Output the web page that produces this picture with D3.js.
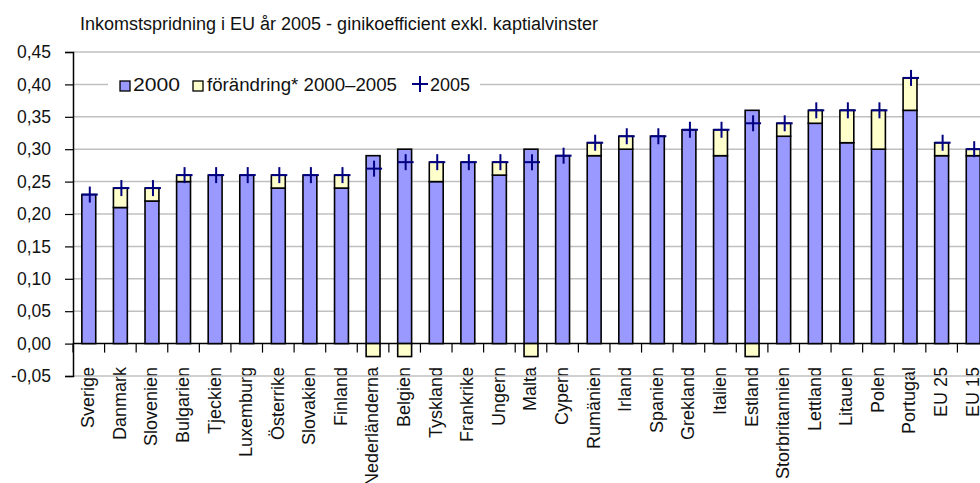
<!DOCTYPE html>
<html>
<head>
<meta charset="utf-8">
<script src="https://cdn.jsdelivr.net/npm/d3@7"></script>
<style>
  body { margin: 0; background: #fff; }
  svg { display: block; font-family: "Liberation Sans", Arial, sans-serif; }
</style>
</head>
<body>
<svg id="chart" width="980" height="483"></svg>
<script>
const title = 'Inkomstspridning i EU år 2005 - ginikoefficient exkl. kaptialvinster';

const countries = ['Sverige', 'Danmark', 'Slovenien', 'Bulgarien', 'Tjeckien', 'Luxemburg',
  'Österrike', 'Slovakien', 'Finland', 'Nederländerna', 'Belgien', 'Tyskland', 'Frankrike',
  'Ungern', 'Malta', 'Cypern', 'Rumänien', 'Irland', 'Spanien', 'Grekland', 'Italien',
  'Estland', 'Storbritannien', 'Lettland', 'Litauen', 'Polen', 'Portugal', 'EU 25', 'EU 15'];

const gini2000 = [0.23, 0.21, 0.22, 0.25, 0.26, 0.26, 0.24, 0.26, 0.24, 0.29, 0.30, 0.25, 0.28,
  0.26, 0.30, 0.29, 0.29, 0.30, 0.32, 0.33, 0.29, 0.36, 0.32, 0.34, 0.31, 0.30, 0.36, 0.29, 0.29];

const gini2005 = [0.23, 0.24, 0.24, 0.26, 0.26, 0.26, 0.26, 0.26, 0.26, 0.27, 0.28, 0.28, 0.28,
  0.28, 0.28, 0.29, 0.31, 0.32, 0.32, 0.33, 0.33, 0.34, 0.34, 0.36, 0.36, 0.36, 0.41, 0.31, 0.30];

const yTicks = [-0.05, 0, 0.05, 0.10, 0.15, 0.20, 0.25, 0.30, 0.35, 0.40, 0.45];

const legendItems = [
  { key: 'base', label: '2000' },
  { key: 'change', label: 'förändring* 2000–2005' },
  { key: 'cross', label: '2005' },
];

const colors = { base: '#9999ff', change: '#ffffcc', cross: '#000080' };

const rows = countries.map((name, i) => ({
  name,
  v2000: gini2000[i],
  v2005: gini2005[i],
  change: Math.round((gini2005[i] - gini2000[i]) * 100) / 100,
}));

const svg = d3.select('#chart');
const left = 73;
const right = 989;

const x = d3.scaleBand()
  .domain(countries)
  .range([left, right])
  .paddingInner(0.56)
  .paddingOuter(0.28);

const y = d3.scaleLinear()
  .domain([-0.05, 0.45])
  .range([376, 52]);

const fmt = (d) => d3.format('.2f')(d).replace('.', ',').replace('−', '-');

// title
svg.append('text')
  .attr('x', 80)
  .attr('y', 30)
  .attr('font-size', 18)
  .attr('fill', '#111')
  .text(title);

// x labels (drawn under the gridlines like the original)
svg.append('g')
  .selectAll('text')
  .data(countries)
  .join('text')
  .attr('transform', (d) => `translate(${x(d) + x.bandwidth() / 2},367) rotate(-90)`)
  .attr('text-anchor', 'end')
  .attr('dy', '0.3em')
  .attr('font-size', 18)
  .attr('fill', '#111')
  .text((d) => d);

// gridlines
svg.append('g')
  .selectAll('line')
  .data(yTicks.filter((d) => d !== 0))
  .join('line')
  .attr('x1', left)
  .attr('x2', 980)
  .attr('y1', (d) => y(d))
  .attr('y2', (d) => y(d))
  .attr('stroke', '#c0c0c0')
  .attr('stroke-width', 1.5);

// y axis
const yAxis = svg.append('g')
  .attr('transform', `translate(${left},0)`)
  .call(d3.axisLeft(y).tickValues(yTicks).tickFormat(fmt).tickSize(8).tickPadding(14));
yAxis.select('.domain').attr('stroke', '#000').attr('stroke-width', 1.5);
yAxis.selectAll('.tick line').attr('stroke', '#000').attr('stroke-width', 1.2);
yAxis.selectAll('.tick text')
  .attr('font-size', 17.5)
  .attr('font-family', '"Liberation Sans", Arial, sans-serif')
  .attr('fill', '#111');

// x axis at zero with ticks between categories
const step = x.step();
const boundaries = d3.range(countries.length + 1).map((i) => left + i * step);
svg.append('line')
  .attr('x1', left)
  .attr('x2', 980)
  .attr('y1', y(0))
  .attr('y2', y(0))
  .attr('stroke', '#000')
  .attr('stroke-width', 1.5);
svg.append('g')
  .selectAll('line')
  .data(boundaries)
  .join('line')
  .attr('x1', (d) => d)
  .attr('x2', (d) => d)
  .attr('y1', y(0))
  .attr('y2', y(0) + 9)
  .attr('stroke', '#000')
  .attr('stroke-width', 1.2);

// bars for 2000
const bars = svg.append('g');
bars.selectAll('rect.base')
  .data(rows)
  .join('rect')
  .attr('class', 'base')
  .attr('x', (d) => x(d.name))
  .attr('width', x.bandwidth())
  .attr('y', (d) => y(d.v2000))
  .attr('height', (d) => y(0) - y(d.v2000))
  .attr('fill', colors.base)
  .attr('stroke', '#000')
  .attr('stroke-width', 1.6);

// change, stacked up from the 2000 value or down from zero
bars.selectAll('rect.change')
  .data(rows.filter((d) => d.change !== 0))
  .join('rect')
  .attr('class', 'change')
  .attr('x', (d) => x(d.name))
  .attr('width', x.bandwidth())
  .attr('y', (d) => (d.change > 0 ? y(d.v2000 + d.change) : y(0)))
  .attr('height', (d) => Math.abs(y(0) - y(Math.abs(d.change))))
  .attr('fill', colors.change)
  .attr('stroke', '#000')
  .attr('stroke-width', 1.6);

// 2005 crosses
const cross = (sel, size) => {
  sel.append('line')
    .attr('x1', -size).attr('x2', size).attr('y1', 0).attr('y2', 0);
  sel.append('line')
    .attr('x1', 0).attr('x2', 0).attr('y1', -size).attr('y2', size);
  sel.attr('stroke', colors.cross).attr('stroke-width', 2);
};

svg.append('g')
  .selectAll('g')
  .data(rows)
  .join('g')
  .attr('transform', (d) => `translate(${x(d.name) + x.bandwidth() / 2 + 1},${y(d.v2005)})`)
  .each(function () { cross(d3.select(this), 8); });

// legend
const legend = svg.append('g');
legend.append('rect')
  .attr('x', 108)
  .attr('y', 70)
  .attr('width', 372)
  .attr('height', 28)
  .attr('fill', '#fff');

const legendX = [120, 193, 420];
const legendTextX = [13, 14, 10];
const legendTextWidth = [47, 190, 40];
legendItems.forEach((item, i) => {
  const g = legend.append('g').attr('transform', `translate(${legendX[i]},84)`);
  g.append('text')
    .attr('x', legendTextX[i])
    .attr('y', 6.5)
    .attr('font-size', 18)
    .attr('textLength', legendTextWidth[i])
    .attr('lengthAdjust', 'spacingAndGlyphs')
    .attr('fill', '#111')
    .text(item.label);
  if (item.key === 'cross') {
    g.append('g').call(cross, 8);
  } else {
    g.append('rect')
      .attr('x', 0).attr('y', -3).attr('width', 10).attr('height', 10)
      .attr('fill', colors[item.key])
      .attr('stroke', '#000')
      .attr('stroke-width', 1.3);
  }
});
</script>
</body>
</html>
